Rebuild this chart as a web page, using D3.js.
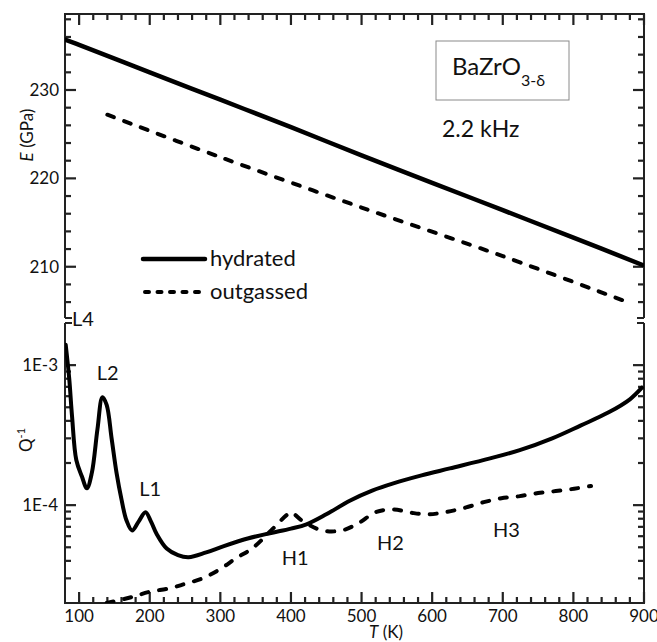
<!DOCTYPE html>
<html>
<head>
<meta charset="utf-8">
<script src="https://cdn.jsdelivr.net/npm/d3@7"></script>
<style>
  body { margin: 0; background: #fff; }
  svg { display: block; font-family: Lato, "Open Sans", sans-serif; }
</style>
</head>
<body>
<svg id="chart" width="657" height="642"></svg>
<script>
// ---- data ----
const tMajor = [100, 200, 300, 400, 500, 600, 700, 800, 900];
const eMajor = [210, 220, 230];
const qMajor = [1e-4, 1e-3];
const qMajorLabels = ["1E-4", "1E-3"];

// Young's modulus (GPa)
const eHydT = [80, 100, 200, 300, 400, 500, 600, 700, 800, 898];
const eHydE = [235.7, 235.1, 232.0, 228.9, 225.8, 222.6, 219.5, 216.4, 213.3, 210.2];
const eOutT = [140, 300, 500, 700, 870];
const eOutE = [227.2, 222.4, 216.7, 211.2, 206.2];

// internal friction Q^-1
const qHydT = [81, 86, 90, 96, 104, 111, 118, 126, 133, 139, 146, 153, 160, 167, 175, 184, 194, 202, 210, 224, 240, 255, 280, 305, 340, 370, 400, 422, 450, 484, 515, 545, 585, 625, 682, 724, 770, 810, 850, 880, 897];
const qHydQ = [1.4e-3, 8.0e-4, 4.3e-4, 2.1e-4, 1.6e-4, 1.32e-4, 1.7e-4, 3.5e-4, 5.9e-4, 5.2e-4, 3.0e-4, 1.7e-4, 1.1e-4, 7.8e-5, 6.6e-5, 7.6e-5, 8.9e-5, 7.6e-5, 6.2e-5, 4.9e-5, 4.4e-5, 4.25e-5, 4.6e-5, 5.1e-5, 5.8e-5, 6.3e-5, 6.8e-5, 7.3e-5, 8.6e-5, 1.08e-4, 1.27e-4, 1.43e-4, 1.63e-4, 1.83e-4, 2.16e-4, 2.47e-4, 3.0e-4, 3.7e-4, 4.6e-4, 5.7e-4, 6.9e-4];
const qOutT = [139, 174, 199, 229, 251, 275, 300, 323, 345, 372, 394, 400, 415, 444, 472, 495, 521, 546, 572, 595, 621, 647, 673, 698, 724, 750, 775, 801, 825];
const qOutQ = [2.0e-5, 2.2e-5, 2.4e-5, 2.55e-5, 2.75e-5, 3.0e-5, 3.5e-5, 4.2e-5, 4.9e-5, 6.6e-5, 8.5e-5, 8.9e-5, 7.8e-5, 6.6e-5, 6.6e-5, 7.4e-5, 8.95e-5, 9.3e-5, 8.8e-5, 8.6e-5, 8.95e-5, 9.6e-5, 1.05e-4, 1.12e-4, 1.16e-4, 1.22e-4, 1.26e-4, 1.31e-4, 1.37e-4];

const peakNames = ["L4", "L2", "L1", "H1", "H2", "H3"];
const peakT = [90, 125, 185, 387, 522, 686];
const peakQ = [1.9e-3, 7.8e-4, 1.16e-4, 3.73e-5, 4.77e-5, 5.9e-5];

// ---- layout ----
const left = 65, right = 644;
const top0 = 14, top1 = 318;   // E panel
const bot0 = 323, bot1 = 603;  // Q panel
const ink = "#222";
const txt = "#111";

const svg = d3.select("#chart");

const x = d3.scaleLinear().domain([80, 900]).range([left, right]);
const yE = d3.scaleLinear().domain([204.2, 238.6]).range([top1, top0]);
const yQ = d3.scaleLog().domain([2e-5, 2e-3]).range([bot1, bot0]);

svg.append("defs").call(d => {
  d.append("clipPath").attr("id", "clipTop").append("rect")
    .attr("x", left).attr("y", top0).attr("width", right - left).attr("height", top1 - top0);
  d.append("clipPath").attr("id", "clipBot").append("rect")
    .attr("x", left).attr("y", bot0).attr("width", right - left).attr("height", bot1 - bot0);
});

// inward ticks as small filled rects, built from the scales
const ticksG = svg.append("g").attr("fill", ink);
const xMinor = d3.range(120, 900, 20).filter(v => v % 100 !== 0);
function vTick(px, py, len) { // len > 0 downwards
  ticksG.append("rect").attr("x", px - 1.1).attr("width", 2.2)
    .attr("y", len > 0 ? py : py + len).attr("height", Math.abs(len));
}
function hTick(px, py, len) { // len > 0 to the right
  ticksG.append("rect").attr("y", py - 1.1).attr("height", 2.2)
    .attr("x", len > 0 ? px : px + len).attr("width", Math.abs(len));
}
tMajor.forEach(v => { vTick(x(v), top0, 11); vTick(x(v), bot1, -11); });
xMinor.forEach(v => { vTick(x(v), top0, 6); vTick(x(v), bot1, -6); });
d3.range(206, 239, 2).forEach(v => {
  const len = eMajor.includes(v) ? 11 : 6;
  hTick(left, yE(v), len); hTick(right, yE(v), -len);
});
yQ.ticks().filter(v => v > 2.01e-5 && v < 1.99e-3).forEach(v => {
  const len = qMajor.some(m => Math.abs(m - v) / m < 1e-6) ? 11 : 6;
  hTick(left, yQ(v), len); hTick(right, yQ(v), -len);
});

// frames (no border between the two panels, only short stubs)
const frame = [];
frame.push(`M${left},${top1}V${top0}H${right}V${top1}`);
frame.push(`M${left},${bot0}V${bot1}H${right}V${bot0}`);
frame.push(`M${left},${top1}h7M${right},${top1}h-7M${left},${bot0}h7M${right},${bot0}h-7`);
svg.append("path").attr("d", frame.join(""))
  .attr("fill", "none").attr("stroke", ink).attr("stroke-width", 2);

// tick labels
const labels = svg.append("g").attr("fill", txt).attr("font-size", 17);
labels.selectAll(".xl").data(tMajor).join("text")
  .attr("x", d => x(d)).attr("y", 622).attr("text-anchor", "middle").text(d => d);
labels.selectAll(".el").data(eMajor).join("text")
  .attr("x", 59).attr("y", d => yE(d) + 6).attr("text-anchor", "end").text(d => d);
labels.selectAll(".ql").data(qMajor).join("text")
  .attr("x", 58).attr("y", d => yQ(d) + 6).attr("text-anchor", "end")
  .text((d, i) => qMajorLabels[i]);

// axis titles
const eTitle = svg.append("text").attr("transform", "translate(33,135) rotate(-90)")
  .attr("text-anchor", "middle").attr("fill", txt).attr("font-size", 17);
eTitle.append("tspan").attr("font-style", "italic").text("E");
eTitle.append("tspan").text(" (GPa)");

const qTitle = svg.append("text").attr("transform", "translate(32,440) rotate(-90)")
  .attr("text-anchor", "middle").attr("fill", txt).attr("font-size", 17);
qTitle.append("tspan").text("Q");
qTitle.append("tspan").attr("font-size", 11).attr("dy", -7).text("-1");

const tTitle = svg.append("text").attr("x", 386).attr("y", 638)
  .attr("text-anchor", "middle").attr("fill", txt).attr("font-size", 17);
tTitle.append("tspan").attr("font-style", "italic").text("T");
tTitle.append("tspan").text(" (K)");

// curves
const lineE = d3.line().x(d => x(d[0])).y(d => yE(d[1])).curve(d3.curveCatmullRom.alpha(0.5));
const lineQ = d3.line().x(d => x(d[0])).y(d => yQ(d[1])).curve(d3.curveCatmullRom.alpha(0.5));
const solidStyle = s => s.attr("fill", "none").attr("stroke", "#000").attr("stroke-width", 4.5)
  .attr("stroke-linejoin", "round").attr("stroke-linecap", "round");
const dashStyle = s => s.attr("fill", "none").attr("stroke", "#000").attr("stroke-width", 4)
  .attr("stroke-dasharray", "7,11").attr("stroke-linecap", "round");

svg.append("path").attr("clip-path", "url(#clipTop)")
  .attr("d", lineE(d3.zip(eHydT, eHydE))).call(solidStyle);
svg.append("path").attr("clip-path", "url(#clipTop)")
  .attr("d", lineE(d3.zip(eOutT, eOutE))).call(dashStyle);
svg.append("path").attr("clip-path", "url(#clipBot)")
  .attr("d", lineQ(d3.zip(qHydT, qHydQ))).call(solidStyle).attr("stroke-width", 4);
svg.append("path").attr("clip-path", "url(#clipBot)")
  .attr("d", lineQ(d3.zip(qOutT, qOutQ))).call(dashStyle);

// peak labels
svg.append("g").attr("fill", txt).attr("font-size", 20)
  .selectAll("text").data(peakNames).join("text")
  .attr("x", (d, i) => x(peakT[i])).attr("y", (d, i) => yQ(peakQ[i])).text(d => d);

// legend
const leg = svg.append("g");
leg.append("line").attr("x1", 143).attr("x2", 205).attr("y1", 259).attr("y2", 259).call(solidStyle);
leg.append("line").attr("x1", 145).attr("x2", 205).attr("y1", 292).attr("y2", 292).call(dashStyle)
  .attr("stroke-dasharray", "4,8.5");
leg.append("text").attr("x", 210).attr("y", 266).attr("font-size", 22).attr("fill", txt).text("hydrated");
leg.append("text").attr("x", 210).attr("y", 299).attr("font-size", 22).attr("fill", txt).text("outgassed");

// sample box and frequency
svg.append("rect").attr("x", 436).attr("y", 41).attr("width", 133).attr("height", 59)
  .attr("fill", "#fff").attr("stroke", "#8a8a8a").attr("stroke-width", 1);
const formula = svg.append("text").attr("x", 452).attr("y", 75).attr("font-size", 24).attr("fill", txt);
formula.append("tspan").text("BaZrO");
formula.append("tspan").attr("font-size", 16).attr("dy", 11).text("3-δ");
svg.append("text").attr("x", 442).attr("y", 137).attr("font-size", 23).attr("fill", txt).text("2.2 kHz");
</script>
</body>
</html>
